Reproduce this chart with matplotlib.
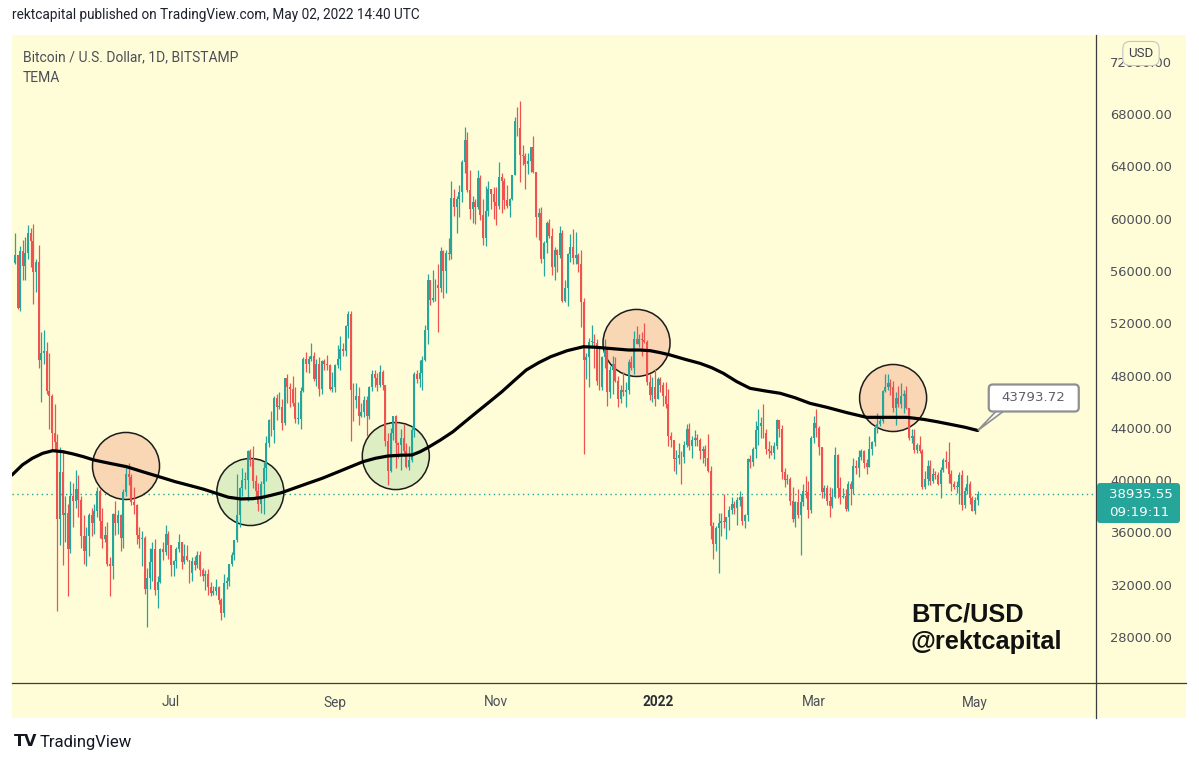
import numpy as np
import pandas as pd
import matplotlib
matplotlib.use("Agg")
import matplotlib.pyplot as plt
import matplotlib.dates as mdates
from matplotlib.patches import Rectangle, FancyBboxPatch, Polygon
from matplotlib.lines import Line2D
from matplotlib.transforms import IdentityTransform

W, H = 1199, 764

# BTC/USD daily candles (Bitstamp), 3 May 2021 .. 2 May 2022, values in thousands USD
first_open = 56.6
closes = [
    # May 2021
    57.2, 53.2, 57.5, 56.4, 57.4, 58.9, 58.3, 55.9, 56.7, 49.2, 49.7, 49.9, 46.8, 46.4, 43.6, 42.9, 37.0, 40.6, 37.3, 37.5,
    34.7, 38.8, 38.4, 39.3, 38.5, 35.7, 34.6, 35.7, 37.3,
    # Jun
    36.7, 37.6, 39.2, 36.9, 35.5, 35.8, 33.6, 33.4, 37.4, 36.7, 37.3, 35.6, 39.1, 40.5, 40.2, 38.3, 38.1, 35.8, 35.5, 35.6,
    31.7, 32.5, 33.7, 34.7, 31.6, 32.2, 34.7, 34.5, 35.9, 35.0,
    # Jul
    33.5, 33.8, 34.7, 35.3, 33.7, 34.2, 33.9, 32.9, 33.8, 33.5, 34.3, 33.1, 32.7, 32.8, 31.8, 31.4, 31.5, 31.8, 30.8, 29.8,
    32.1, 32.3, 33.6, 34.3, 35.4, 37.3, 39.4, 40.0, 40.0, 42.2, 41.5,
    # Aug
    39.9, 39.2, 38.2, 39.7, 40.9, 42.8, 44.6, 43.8, 46.3, 45.6, 45.6, 44.4, 47.8, 47.1, 47.0, 45.9, 44.7, 44.7, 46.8, 49.3,
    48.9, 49.3, 49.5, 47.7, 48.9, 47.0, 49.1, 48.9, 48.8, 47.0, 47.1,
    # Sep
    48.8, 49.3, 50.0, 49.9, 51.8, 52.7, 46.9, 46.1, 46.4, 44.9, 45.2, 46.1, 44.9, 47.1, 48.1, 47.8, 47.3, 48.3, 47.3, 43.0,
    40.7, 43.6, 44.9, 42.8, 42.7, 43.2, 42.2, 41.0, 41.5, 43.8,
    # Oct
    48.1, 47.7, 48.2, 49.2, 51.5, 55.3, 53.8, 53.9, 54.9, 54.7, 57.5, 56.0, 57.4, 57.3, 61.6, 60.9, 61.5, 62.0, 64.3, 66.0,
    62.2, 60.7, 61.3, 60.9, 63.1, 60.3, 58.5, 60.6, 62.3, 61.9, 61.3,
    # Nov
    61.0, 63.2, 62.9, 61.4, 61.0, 61.5, 63.3, 67.5, 66.9, 64.9, 64.8, 64.2, 64.4, 65.5, 63.6, 60.1, 60.4, 56.9, 58.1, 59.7,
    58.7, 56.3, 57.6, 57.2, 58.9, 53.7, 54.7, 57.3, 57.8, 57.0,
    # Dec
    57.2, 56.5, 53.6, 49.2, 49.4, 50.6, 50.6, 50.5, 47.6, 47.1, 49.4, 50.1, 46.7, 48.4, 48.9, 47.6, 46.2, 46.9, 46.7, 46.9,
    49.0, 48.6, 50.8, 50.4, 50.8, 50.7, 50.6, 47.5, 46.5, 47.1, 46.2,
    # Jan 2022
    47.7, 47.3, 46.4, 45.8, 43.4, 43.1, 41.6, 41.7, 41.9, 41.8, 42.7, 43.9, 42.6, 43.1, 43.2, 43.1, 42.2, 42.4, 41.7, 40.7,
    36.5, 35.1, 36.3, 36.7, 36.9, 36.8, 37.2, 37.7, 38.2, 37.9, 38.5,
    # Feb
    38.7, 36.9, 37.3, 41.6, 41.4, 42.4, 43.8, 44.1, 44.4, 43.6, 42.4, 42.2, 42.1, 42.6, 44.6, 43.9, 40.6, 40.0, 40.1, 38.4,
    37.0, 38.3, 37.3, 38.3, 39.2, 39.1, 37.7, 43.2,
    # Mar
    44.4, 44.0, 42.5, 39.1, 39.4, 38.4, 38.0, 38.7, 41.9, 39.4, 38.7, 38.8, 37.8, 39.7, 39.3, 41.1, 40.9, 41.8, 42.2, 41.3,
    41.0, 42.4, 42.9, 44.0, 44.3, 44.5, 46.8, 47.1, 47.4, 47.1, 45.5,
    # Apr
    46.3, 45.8, 46.4, 46.6, 45.5, 43.2, 43.4, 42.3, 42.7, 42.2, 39.5, 40.1, 41.1, 39.9, 40.5, 40.4, 39.7, 40.8, 41.5, 41.4,
    40.5, 39.7, 39.5, 39.5, 40.4, 38.1, 39.2, 39.7, 38.6, 37.6,
    # May
    38.5, 38.93555,
]
highs = [
    58.9, 57.2, 57.9, 58.4, 58.6, 59.5, 59.3, 59.6, 56.9, 58.0, 51.3, 51.5, 50.6, 49.7, 46.6, 45.8, 43.5, 42.5, 42.2, 38.8,
    38.2, 39.9, 39.8, 40.8, 40.4, 38.8, 37.3, 36.4, 37.5,
    37.9, 38.2, 39.5, 39.3, 37.9, 36.5, 36.8, 34.1, 37.5, 38.4, 37.7, 37.4, 39.3, 41.0, 41.3, 40.5, 39.5, 38.2, 36.4, 36.1,
    35.7, 33.3, 34.8, 35.3, 35.5, 32.7, 34.8, 35.3, 36.6, 36.1,
    35.0, 33.9, 34.9, 35.9, 35.3, 35.1, 35.0, 33.9, 34.1, 34.2, 34.6, 34.6, 33.3, 33.1, 33.2, 32.2, 31.9, 32.4, 31.9, 31.0,
    32.8, 32.6, 33.6, 34.5, 35.4, 40.5, 39.5, 40.9, 40.6, 42.3, 42.4,
    42.6, 40.4, 39.8, 39.9, 41.4, 43.4, 44.7, 45.3, 46.4, 46.6, 46.7, 46.2, 47.8, 48.1, 47.4, 48.0, 47.1, 46.0, 47.1, 49.4,
    49.8, 49.5, 50.5, 49.8, 49.3, 49.4, 49.2, 49.3, 49.6, 48.9, 48.3,
    48.9, 50.3, 51.0, 50.5, 51.9, 52.9, 52.9, 47.4, 47.4, 47.1, 45.9, 46.4, 46.4, 47.2, 48.4, 48.4, 48.2, 48.8, 48.4, 47.3,
    43.6, 44.0, 44.9, 45.0, 42.9, 43.9, 44.3, 42.8, 42.6, 44.1,
    48.3, 48.4, 49.2, 49.5, 51.9, 55.8, 55.3, 56.1, 55.4, 56.5, 57.8, 57.6, 57.6, 58.5, 62.9, 62.3, 61.7, 62.6, 64.5, 67.0,
    66.6, 63.7, 61.7, 61.5, 63.7, 63.3, 61.5, 62.5, 62.9, 62.3, 62.4,
    62.4, 64.3, 63.5, 63.1, 62.6, 61.6, 63.3, 67.8, 68.5, 69.0, 65.6, 65.0, 65.0, 65.5, 66.3, 63.6, 60.8, 60.9, 58.3, 59.8,
    60.0, 59.3, 57.8, 57.7, 59.4, 59.1, 55.3, 57.4, 58.8, 59.2,
    59.0, 57.4, 57.6, 53.9, 49.7, 50.9, 51.9, 51.2, 50.8, 50.1, 49.5, 50.8, 50.2, 48.7, 49.5, 49.4, 48.0, 47.3, 48.3, 47.5,
    49.3, 49.5, 51.4, 51.8, 51.2, 51.3, 52.0, 50.7, 48.1, 47.9, 48.5,
    47.9, 47.9, 47.5, 47.5, 47.0, 43.7, 43.1, 42.3, 42.8, 42.2, 43.0, 44.3, 44.4, 43.4, 43.8, 43.5, 43.2, 42.6, 42.7, 43.5,
    41.1, 36.8, 36.5, 37.5, 37.5, 38.9, 37.2, 38.0, 38.7, 38.4, 38.7,
    39.2, 38.8, 37.4, 41.7, 41.9, 42.5, 44.5, 45.4, 44.8, 45.8, 43.9, 43.0, 42.7, 42.9, 44.7, 44.6, 44.2, 40.9, 40.5, 40.2,
    39.5, 38.4, 39.3, 38.9, 39.7, 40.3, 39.9, 43.4,
    44.9, 45.4, 44.1, 42.5, 39.6, 39.6, 39.5, 39.4, 42.5, 42.0, 40.2, 39.4, 39.3, 39.9, 39.9, 41.7, 41.5, 42.3, 42.4, 42.3,
    41.6, 43.4, 43.0, 44.2, 45.1, 44.8, 46.9, 48.1, 48.1, 47.7, 47.6,
    46.7, 47.2, 47.4, 46.9, 47.2, 45.5, 43.9, 43.9, 42.8, 43.4, 42.4, 40.7, 41.5, 41.5, 40.9, 40.7, 40.6, 41.0, 41.7, 42.2,
    42.9, 40.8, 39.9, 39.9, 40.6, 40.8, 39.5, 40.4, 39.9, 38.8,
    38.7, 39.2,
]
lows = [
    56.5, 53.1, 52.9, 55.3, 55.3, 56.9, 56.3, 53.5, 54.4, 48.6, 46.0, 48.9, 46.6, 43.9, 42.2, 42.3, 30.0, 35.0, 33.5, 35.3,
    31.1, 34.4, 36.4, 37.9, 37.2, 34.8, 33.6, 33.4, 34.2,
    35.7, 35.9, 37.2, 35.6, 34.8, 35.3, 33.4, 31.1, 32.4, 35.8, 35.9, 34.6, 34.8, 38.8, 39.6, 38.1, 37.4, 35.1, 34.8, 33.4,
    31.3, 28.8, 31.7, 32.3, 31.2, 30.2, 32.1, 33.9, 34.3, 34.0,
    32.7, 32.7, 33.3, 34.5, 33.2, 33.6, 33.8, 32.1, 32.3, 33.1, 33.3, 32.7, 32.3, 31.6, 31.2, 31.1, 31.2, 31.2, 30.5, 29.3,
    29.5, 31.7, 31.9, 33.4, 33.9, 35.3, 36.4, 38.8, 39.3, 38.4, 41.1,
    39.4, 38.7, 37.6, 37.5, 37.4, 39.9, 42.5, 43.4, 42.8, 44.6, 45.4, 43.8, 44.2, 45.9, 45.6, 45.7, 44.4, 44.3, 43.9, 46.7,
    48.3, 48.2, 49.1, 47.6, 47.2, 46.4, 46.6, 48.4, 48.4, 46.9, 46.7,
    46.7, 48.6, 48.4, 49.5, 49.5, 50.9, 43.0, 44.5, 45.5, 44.2, 44.8, 44.8, 43.4, 44.7, 46.8, 47.1, 46.8, 47.1, 46.9, 42.6,
    39.6, 40.6, 43.1, 40.9, 41.7, 40.8, 42.1, 40.9, 40.8, 41.4,
    43.3, 47.4, 47.1, 46.9, 49.1, 50.4, 53.4, 53.6, 53.7, 51.3, 54.4, 53.9, 54.3, 56.8, 56.9, 60.2, 58.9, 60.1, 61.3, 63.5,
    62.0, 60.0, 59.7, 59.6, 60.7, 59.9, 58.0, 57.9, 60.2, 60.7, 60.0,
    59.5, 60.7, 60.4, 60.7, 60.8, 60.1, 61.4, 63.3, 66.3, 62.8, 64.1, 62.3, 63.4, 63.6, 63.5, 58.6, 58.4, 56.6, 55.6, 57.4,
    58.5, 55.7, 55.3, 55.9, 57.0, 53.6, 53.6, 53.3, 56.7, 56.5,
    56.5, 55.9, 51.7, 42.0, 47.7, 47.1, 50.1, 48.6, 47.3, 46.9, 46.9, 48.6, 45.7, 46.3, 46.6, 47.5, 45.6, 45.9, 46.4, 45.6,
    46.6, 48.4, 48.1, 50.4, 50.2, 49.5, 50.5, 47.3, 46.1, 46.0, 45.7,
    46.2, 46.7, 45.7, 45.5, 42.6, 42.5, 40.7, 40.5, 41.2, 39.7, 41.3, 42.5, 42.3, 41.7, 42.6, 42.6, 41.6, 41.3, 41.1, 40.6,
    35.5, 34.0, 34.6, 32.9, 35.7, 36.3, 35.5, 36.2, 37.4, 37.4, 36.6,
    38.0, 36.6, 36.3, 36.9, 40.9, 41.1, 41.7, 42.7, 43.2, 43.2, 42.0, 41.7, 41.9, 41.6, 42.4, 43.3, 40.1, 39.5, 39.7, 38.1,
    36.8, 36.4, 37.1, 34.3, 38.0, 38.6, 37.1, 37.5,
    42.8, 43.3, 41.9, 38.6, 38.6, 38.1, 37.2, 37.9, 38.6, 38.6, 38.2, 38.6, 37.6, 37.6, 38.1, 38.9, 40.5, 40.2, 41.5, 40.9,
    40.5, 41.0, 41.9, 42.6, 43.6, 44.1, 44.4, 46.7, 46.9, 46.5, 45.2,
    44.2, 45.6, 45.5, 45.1, 45.4, 43.1, 42.8, 42.1, 42.1, 42.1, 39.3, 39.3, 39.6, 39.6, 39.8, 40.1, 39.6, 38.6, 40.6, 40.9,
    39.8, 39.2, 39.3, 39.0, 38.2, 37.7, 37.9, 38.9, 38.2, 37.6,
    37.4, 38.1,
]

# TEMA line: days since 3 May 2021, value in thousands USD
tema_days = [-1.1, 2.8, 6.6, 10.5, 14.3, 18.2, 22.0, 25.9, 29.8, 35.9, 42.1, 48.3, 54.5, 60.6, 66.8, 71.4,
             76.1, 80.7, 85.3, 89.9, 93.0, 96.9, 100.8, 105.4, 110.0, 116.2, 122.3, 127.0, 131.6, 136.3,
             140.9, 145.5, 150.1, 153.2, 156.3, 160.9, 165.6, 170.2, 174.8, 179.5, 184.1, 188.7, 193.3,
             198.0, 202.6, 208.8, 214.9, 219.6, 224.2, 231.9, 236.3, 240.1, 243.9, 247.7, 253.3, 259.0,
             263.4, 267.8, 272.9, 277.9, 283.6, 289.3, 294.9, 300.6, 306.9, 314.5, 322.0, 329.6, 337.2,
             343.4, 348.5, 353.5, 359.2, 364.0]
tema_values = [40.39, 41.16, 41.67, 42.05, 42.25, 42.17, 42.0, 41.79, 41.54, 41.28, 41.03, 40.64, 40.26, 39.88,
               39.55, 39.30, 38.99, 38.69, 38.56, 38.58, 38.66, 38.84, 39.04, 39.37, 39.70, 40.14, 40.64,
               41.03, 41.41, 41.67, 41.84, 41.90, 41.92, 42.17, 42.51, 43.07, 43.70, 44.47, 45.23, 46.0,
               46.76, 47.60, 48.42, 48.98, 49.44, 49.90, 50.20, 50.16, 50.08, 49.95, 49.95, 49.90, 49.75,
               49.57, 49.24, 48.93, 48.60, 48.17, 47.53, 47.02, 46.82, 46.64, 46.30, 45.87, 45.57, 45.16,
               44.80, 44.80, 44.80, 44.65, 44.47, 44.27, 44.04, 43.79372]

# hand-drawn circles (date, price in thousands, kind)
circle_dates = ['2021-06-14', '2021-07-31', '2021-09-24', '2021-12-24', '2022-03-31']
circle_prices = [41.08, 39.09, 41.84, 50.49, 46.28]
circle_kinds = ['top', 'bottom', 'bottom', 'top', 'top']

x_ticks = ['2021-07-01', '2021-09-01', '2021-11-01', '2022-01-01', '2022-03-01', '2022-05-01']
x_labels = ['Jul', 'Sep', 'Nov', '2022', 'Mar', 'May']
y_ticks = list(range(28000, 72001, 4000))

BG = '#fefdd7'
GREEN = '#26a69a'
RED = '#ef5350'
TXT = '#4c4f58'

dates = pd.date_range('2021-05-03', periods=len(closes), freq='D')
xd = mdates.date2num(dates)
c = np.array(closes) * 1000
o = np.array([first_open] + closes[:-1]) * 1000
h = np.maximum(np.array(highs) * 1000, np.maximum(o, c))
l = np.minimum(np.array(lows) * 1000, np.minimum(o, c))

fig = plt.figure(figsize=(W / 100, H / 100), dpi=100)
fig.patch.set_facecolor('white')
fig.patches.append(Rectangle((12 / W, 1 - 718 / H), (1186 - 12) / W, (718 - 35) / H,
                             transform=fig.transFigure, facecolor=BG, edgecolor='none', zorder=-5))

ax = fig.add_axes([12 / W, 1 - 683 / H, (1096 - 12) / W, (683 - 35) / H])
ax.set_facecolor('none')
for s in ax.spines.values():
    s.set_visible(False)

x0 = mdates.date2num(pd.Timestamp('2021-05-03'))
ax.set_xlim(x0 - 1.1, x0 + 408.7)
ax.set_ylim(24482, 74042)

# candles
cols = np.where(c >= o, GREEN, RED)
ax.vlines(xd, l, h, colors=cols, linewidth=0.9, zorder=3)
ax.bar(xd, np.maximum(np.abs(c - o), 70), bottom=np.minimum(o, c), width=0.75,
       color=cols, linewidth=0, zorder=3)

# circles
fills = ['#f9d6b4' if k == 'top' else '#ddeec3' for k in circle_kinds]
ax.scatter(mdates.date2num(pd.to_datetime(circle_dates)), np.array(circle_prices) * 1000,
           s=2330, facecolors=fills, edgecolors='#1c1c1c', linewidths=1.1, zorder=2)

# TEMA
tx = x0 + np.array(tema_days)
ty = np.array(tema_values) * 1000
ax.plot(tx, ty, color='black', lw=2.3, zorder=4, solid_joinstyle='round', solid_capstyle='round')

# last price line
ax.axhline(c[-1], color=GREEN, lw=1.0, ls=(0, (1, 2.5)), zorder=1)

# axes ticks
ax.yaxis.tick_right()
ax.set_yticks(y_ticks)
ax.set_yticklabels([f"{v:.2f}" for v in y_ticks])
ax.tick_params(axis='y', length=0, pad=10, labelsize=9.4, labelcolor=TXT)
ax.set_xticks(mdates.date2num(pd.to_datetime(x_ticks)))
ax.set_xticklabels(x_labels, family='Roboto')
ax.tick_params(axis='x', length=0, pad=9, labelsize=9.8, labelcolor=TXT)
for t in ax.get_xticklabels():
    if t.get_text() == '2022':
        t.set_fontweight('bold')
        t.set_color('#2a2e39')

# separator lines
fig.add_artist(Line2D([1096 / W, 1096 / W], [1 - 35 / H, 1 - 718 / H], color='#3c3c3c', lw=0.9))
fig.add_artist(Line2D([12 / W, 1186 / W], [1 - 683 / H, 1 - 683 / H], color='#3c3c3c', lw=0.9))

# header texts
fig.text(12 / W, 1 - 15 / H, "rektcapital published on TradingView.com, May 02, 2022 14:40 UTC",
         family='Roboto', fontsize=9.8, color='#1e222d', va='center')
fig.text(23 / W, 1 - 57 / H, "Bitcoin / U.S. Dollar, 1D, BITSTAMP", family='Roboto', fontsize=10,
         color=TXT, va='center')
fig.text(23 / W, 1 - 78 / H, "TEMA", family='Roboto', fontsize=10, color=TXT, va='center')

fig.text(1141 / W, 1 - 53.5 / H, "USD", family='Roboto', fontsize=9.5, color='#3c3f47', ha='center', va='center',
         zorder=10, bbox=dict(boxstyle='round,pad=0.42,rounding_size=0.55', fc=BG, ec='#c4c4c4', lw=0.8))

# last price label
px_last = ax.transData.transform((x0, c[-1]))[1]
fig.add_artist(FancyBboxPatch((1097, px_last - 29), 83, 40, boxstyle='round,pad=0,rounding_size=3',
                              transform=IdentityTransform(), fc=GREEN, ec='none', zorder=10))
fig.text(1109 / W, px_last / H, f"{c[-1]:.2f}", fontsize=9.6, color='white', va='center', zorder=11)
fig.text(1109 / W, (px_last - 18) / H, "09:19:11", fontsize=9.6, color='white', va='center', zorder=11)

# TEMA value callout
tip = ax.transData.transform((tx[-1], ty[-1]))
fig.add_artist(Polygon([(tip[0], tip[1]), (tip[0] + 20, tip[1] + 21), (tip[0] + 28, tip[1] + 21)],
                       closed=True, transform=IdentityTransform(), fc='white', ec='#8f8f8f', lw=1.2, zorder=9))
fig.add_artist(FancyBboxPatch((tip[0] + 11, tip[1] + 19), 90, 27, boxstyle='round,pad=0,rounding_size=4',
                              transform=IdentityTransform(), fc='white', ec='#8f8f8f', lw=1.6, zorder=10))
fig.text((tip[0] + 56) / W, (tip[1] + 32.5) / H, f"{ty[-1]:.2f}", fontsize=9.6, color='#5d606b',
         ha='center', va='center', zorder=11)

# watermark text
fig.text(911 / W, 1 - 603 / H, "BTC/USD\n@rektcapital", family='Liberation Sans', fontsize=18.3,
         fontweight='bold', color='#111111', va='top', ha='left', linespacing=1.18)

# footer logo
fig.text(14 / W, 1 - 742 / H, "TV", family='DejaVu Sans', fontsize=11.5, fontweight='heavy',
         color='#131722', va='center')
fig.text(40 / W, 1 - 742 / H, "TradingView", family='Roboto', fontsize=12, color='#131722', va='center')

fig.savefig('out.png', dpi=100, facecolor='white')
